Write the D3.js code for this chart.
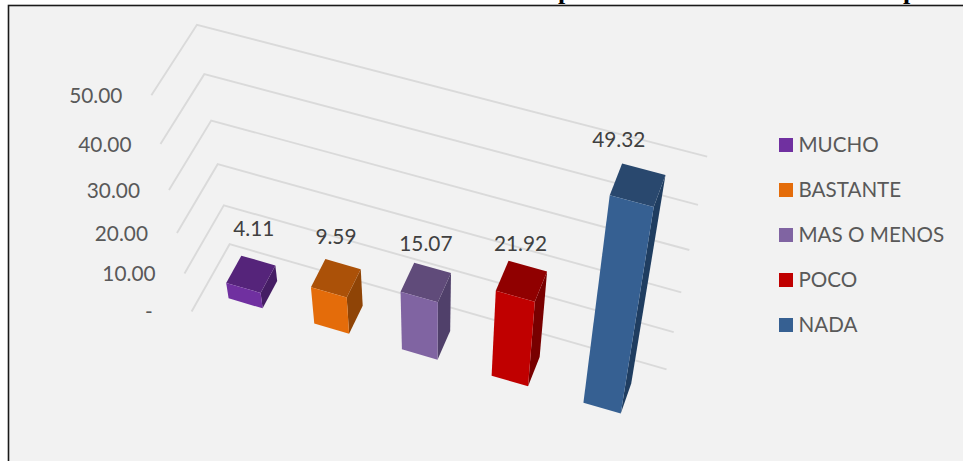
<!DOCTYPE html><html><head><meta charset="utf-8"><style>
html,body{margin:0;background:#fff;overflow:hidden}
text{font-family:Lato,Carlito,sans-serif}
</style></head><body>
<svg id="c" width="963" height="461"></svg>
<script src="https://cdn.jsdelivr.net/npm/d3@7"></script>
<script>
// data
const categories=["MUCHO","BASTANTE","MAS O MENOS","POCO","NADA"];
const values=[4.11,9.59,15.07,21.92,49.32];
const valueLabels=["4.11","9.59","15.07","21.92","49.32"];
const tickValues=[0,10,20,30,40,50];
const tickLabels=["-","10.00","20.00","30.00","40.00","50.00"];
const faceColors=["#7030a0","#e46c0a","#8064a2","#c00000","#366092"];
const topColors=["#55247a","#ab5108","#604b7a","#900000","#29486e"];
const sideColors=["#451d64","#8f4406","#50406a","#780000","#1f3d60"];
// data-label nudges (Excel placed them by hand), relative to the bar's top centre
const labelNudge=[[3,-45],[0,-41],[0,-39],[-1,-37],[-19,-45]];

// camera: homography from chart space (slot, value, depth) to the page
const M=[191.6192,82.65133,-1.240029,45.36577,311.5855,21.66783,-4.602151,-59.51175,-0.01133263,-0.002874714,0.03219619];
const project=(u,v,w)=>{
  const d=1+M[8]*u+M[9]*v+M[10]*w;
  return [(M[0]+M[1]*u+M[2]*v+M[3]*w)/d,(M[4]+M[5]*u+M[6]*v+M[7]*w)/d];
};

const uScale=d3.scaleBand().domain(categories).range([0,categories.length]).paddingInner(.6).paddingOuter(.3);
const vScale=d3.scaleLinear().domain([0,50]).range([0,50]);
const wScale=d3.scaleLinear().domain([0,1]).range([.3,.7]); // bar depth within floor, gap depth 150%

const svg=d3.select("#c");
const poly=d3.line().curve(d3.curveLinearClosed);
const line=d3.line();

// frame
svg.append("rect").attr("x",8.5).attr("y",5.5).attr("width",970).attr("height",470)
  .attr("fill","#f2f2f2").attr("stroke","#1a1a1a").attr("stroke-width",1.6);

// title remnants, cut by the top of the picture
svg.append("g").selectAll("text").data([{x:558,t:"p"},{x:903,t:"p"}]).join("text")
  .attr("x",d=>d.x).attr("y",-1).attr("font-size",26).attr("font-weight",700)
  .style("font-family","'Liberation Serif',serif").attr("fill","#000").text(d=>d.t);

// gridlines
svg.append("g").selectAll("path").data(tickValues).join("path")
  .attr("d",t=>line([project(0,vScale(t),0),project(0,vScale(t),1),project(categories.length,vScale(t),1)]))
  .attr("fill","none").attr("stroke","#dadada").attr("stroke-width",1.9);

// value axis labels
svg.append("g").selectAll("text").data(tickValues).join("text")
  .attr("x",t=>project(0,vScale(t),0)[0]-(t===0?39:29))
  .attr("y",t=>project(0,vScale(t),0)[1]+0.5)
  .attr("dy","0.35em").attr("text-anchor","end").attr("font-size",20.8).attr("fill","#595959")
  .text((t,i)=>tickLabels[i]);

// bars
const bars=svg.append("g").selectAll("g").data(categories).join("g");
bars.each(function(c,i){
  const g=d3.select(this);
  const l=uScale(c),r=l+uScale.bandwidth(),f=wScale(0),b=wScale(1),v=vScale(values[i]);
  g.append("path").attr("d",poly([project(r,0,f),project(r,0,b),project(r,v,b),project(r,v,f)])).attr("fill",sideColors[i]);
  g.append("path").attr("d",poly([project(l,v,f),project(r,v,f),project(r,v,b),project(l,v,b)])).attr("fill",topColors[i]);
  g.append("path").attr("d",poly([project(l,0,f),project(r,0,f),project(r,v,f),project(l,v,f)])).attr("fill",faceColors[i]);
});

// data labels
svg.append("g").selectAll("text").data(categories).join("text")
  .attr("x",(c,i)=>project(uScale(c)+uScale.bandwidth()/2,vScale(values[i]),.5)[0]+labelNudge[i][0])
  .attr("y",(c,i)=>project(uScale(c)+uScale.bandwidth()/2,vScale(values[i]),.5)[1]+labelNudge[i][1])
  .attr("dy","0.35em").attr("text-anchor","middle").attr("font-size",20.8).attr("fill","#404040")
  .text((c,i)=>valueLabels[i]);

// legend
const legendY=d3.scalePoint().domain(categories).range([145,325]);
const lg=svg.append("g").selectAll("g").data(categories).join("g");
lg.append("rect").attr("x",779).attr("y",c=>legendY(c)-7).attr("width",14).attr("height",14).attr("fill",(c,i)=>faceColors[i]);
lg.append("text").attr("x",798.5).attr("y",c=>legendY(c)-0.5).attr("dy","0.35em").attr("font-size",20.6).attr("fill","#595959").text(c=>c);
</script></body></html>
